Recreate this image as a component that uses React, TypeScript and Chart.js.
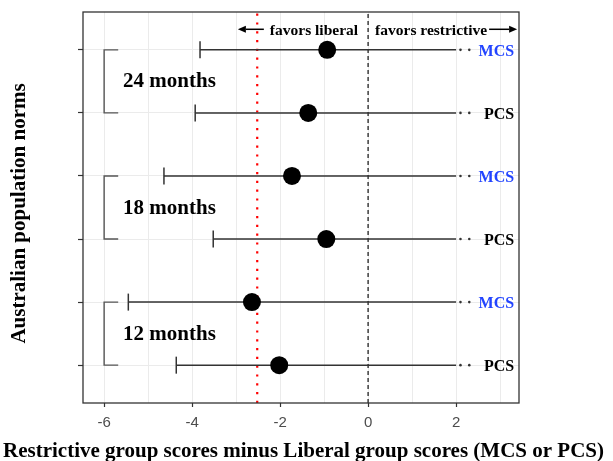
import React, { useEffect, useRef } from 'react';
import { Chart, registerables } from 'chart.js';

Chart.register(...registerables);

// ---- data ----
const rowPositions = [6, 5, 4, 3, 2, 1];
const rowMeasures = ['MCS', 'PCS', 'MCS', 'PCS', 'MCS', 'PCS'];
const pointEstimates = [-0.93, -1.36, -1.73, -0.95, -2.64, -2.02];
const lowerBounds = [-3.82, -3.93, -4.64, -3.52, -5.45, -4.36];
const upperBounds = [2, 2, 2, 2, 2, 2];
const continuationOffsets = [0.1, 0.3];
const groupLabels = ['24 months', '18 months', '12 months'];
const groupTopRows = [6, 4, 2];
const groupBottomRows = [5, 3, 1];
const bracketX = -6;
const bracketTipX = -5.68;
const groupLabelX = -5.57;
const measureLabelX = 3.32;
const zeroLine = 0;
const referenceLine = -2.52;
const xTickValues = [-6, -5, -4, -3, -2, -1, 0, 1, 2, 3];
const xLabelValues = [-6, -4, -2, 0, 2];
const yTickValues = [1, 2, 3, 4, 5, 6];
const xMin = -6.48;
const xMax = 3.43;
const yMin = 0.4;
const yMax = 6.6;
const annotationY = 6.31;
const leftAnnotation = 'favors liberal';
const rightAnnotation = 'favors restrictive';
const xTitle = 'Restrictive group scores minus Liberal group scores (MCS or PCS)';
const yTitle = 'Australian population norms';

const SERIF = "'Liberation Serif', 'DejaVu Serif', serif";
const BAR_COLOR = '#333333';

function arrow(ctx: CanvasRenderingContext2D, x1: number, x2: number, y: number) {
  const dir = x2 > x1 ? 1 : -1;
  const head = 8;
  ctx.beginPath();
  ctx.moveTo(x1, y);
  ctx.lineTo(x2 - dir * head, y);
  ctx.lineWidth = 1.5;
  ctx.strokeStyle = '#000';
  ctx.stroke();
  ctx.beginPath();
  ctx.moveTo(x2, y);
  ctx.lineTo(x2 - dir * head, y - 3.5);
  ctx.lineTo(x2 - dir * head, y + 3.5);
  ctx.closePath();
  ctx.fillStyle = '#000';
  ctx.fill();
}

const textPlugin = {
  id: 'textPlugin',
  afterDraw(chart: any) {
    const { ctx, chartArea } = chart;
    const xs = chart.scales.x;
    const ys = chart.scales.y;
    ctx.save();
    ctx.strokeStyle = '#333';
    ctx.lineWidth = 1.3;
    ctx.strokeRect(chartArea.left, chartArea.top, chartArea.right - chartArea.left, chartArea.bottom - chartArea.top);

    ctx.fillStyle = '#000';
    ctx.font = `bold 21px ${SERIF}`;
    ctx.textAlign = 'left';
    ctx.textBaseline = 'alphabetic';
    groupLabels.forEach((g, i) => {
      const mid = (ys.getPixelForValue(groupTopRows[i]) + ys.getPixelForValue(groupBottomRows[i])) / 2;
      ctx.fillText(g, xs.getPixelForValue(groupLabelX), mid + 6);
    });

    ctx.font = `bold 16px ${SERIF}`;
    ctx.textAlign = 'right';
    rowMeasures.forEach((m, i) => {
      ctx.fillStyle = m === 'MCS' ? '#2244ff' : '#000';
      ctx.fillText(m, xs.getPixelForValue(measureLabelX), ys.getPixelForValue(rowPositions[i]) + 6);
    });

    ctx.fillStyle = '#000';
    ctx.font = `bold 15.5px ${SERIF}`;
    const zx = xs.getPixelForValue(zeroLine);
    const ay = ys.getPixelForValue(annotationY);
    const lw = ctx.measureText(leftAnnotation).width;
    const rw = ctx.measureText(rightAnnotation).width;
    ctx.textAlign = 'right';
    ctx.fillText(leftAnnotation, zx - 10, ay + 5);
    ctx.textAlign = 'left';
    ctx.fillText(rightAnnotation, zx + 7, ay + 5);
    const leftStart = zx - 10 - lw - 6;
    arrow(ctx, leftStart, leftStart - 26, ay - 1);
    const rightStart = zx + 7 + rw + 2;
    arrow(ctx, rightStart, rightStart + 28, ay - 1);

    ctx.fillStyle = '#000';
    ctx.font = `bold 21px ${SERIF}`;
    ctx.textAlign = 'center';
    ctx.textBaseline = 'alphabetic';
    ctx.fillText(xTitle, 303.5, 457);

    ctx.save();
    ctx.translate(25, (chartArea.top + chartArea.bottom) / 2 + 6);
    ctx.rotate(-Math.PI / 2);
    ctx.fillText(yTitle, 0, 0);
    ctx.restore();

    ctx.restore();
  },
};

export default function App() {
  const ref = useRef<HTMLCanvasElement | null>(null);

  useEffect(() => {
    if (!ref.current) return;
    document.body.style.margin = '0';

    const barDatasets = rowPositions.map((y, i) => ({
      label: `bar${i}`,
      data: [
        { x: lowerBounds[i], y },
        { x: upperBounds[i], y },
      ],
      showLine: true,
      borderColor: BAR_COLOR,
      borderWidth: 1.5,
      pointRadius: 0,
      order: 3,
    }));

    const bracketDatasets = groupLabels.map((g, i) => ({
      label: `bracket${i}`,
      data: [
        { x: bracketTipX, y: groupTopRows[i] },
        { x: bracketX, y: groupTopRows[i] },
        { x: bracketX, y: groupBottomRows[i] },
        { x: bracketTipX, y: groupBottomRows[i] },
      ],
      showLine: true,
      borderColor: '#555555',
      borderWidth: 1.4,
      pointRadius: 0,
      order: 4,
    }));

    const datasets: any[] = [
      {
        label: 'estimates',
        data: rowPositions.map((y, i) => ({ x: pointEstimates[i], y })),
        pointRadius: 9,
        pointHoverRadius: 9,
        backgroundColor: '#000',
        borderWidth: 0,
        order: 0,
      },
      {
        label: 'continuation',
        data: rowPositions.flatMap((y, i) => continuationOffsets.map((o) => ({ x: upperBounds[i] + o, y }))),
        pointRadius: 1.3,
        backgroundColor: '#333',
        borderWidth: 0,
        order: 1,
      },
      {
        label: 'caps',
        data: rowPositions.map((y, i) => ({ x: lowerBounds[i], y })),
        pointStyle: 'line',
        rotation: 90,
        pointRadius: 8.5,
        borderColor: BAR_COLOR,
        borderWidth: 1.5,
        order: 2,
      },
      ...barDatasets,
      ...bracketDatasets,
      {
        label: 'reference',
        data: [
          { x: referenceLine, y: yMin },
          { x: referenceLine, y: yMax },
        ],
        showLine: true,
        borderColor: '#ff0000',
        borderWidth: 2.2,
        borderDash: [2.2, 6.6],
        pointRadius: 0,
        order: 5,
      },
      {
        label: 'zero',
        data: [
          { x: zeroLine, y: yMin },
          { x: zeroLine, y: yMax },
        ],
        showLine: true,
        borderColor: '#222',
        borderWidth: 1.3,
        borderDash: [4, 3],
        pointRadius: 0,
        order: 6,
      },
    ];

    const chart = new Chart(ref.current, {
      type: 'scatter',
      data: { datasets },
      options: {
        animation: false,
        responsive: false,
        devicePixelRatio: 1,
        events: [],
        layout: { padding: { top: 12, right: 94, left: 0, bottom: 0 } },
        plugins: { legend: { display: false }, tooltip: { enabled: false } },
        scales: {
          x: {
            type: 'linear',
            min: xMin,
            max: xMax,
            afterBuildTicks: (s: any) => {
              s.ticks = xTickValues.map((v) => ({ value: v }));
            },
            afterFit: (s: any) => {
              s.height = 58;
            },
            ticks: {
              autoSkip: false,
              maxRotation: 0,
              padding: 7,
              color: '#4d4d4d',
              font: { family: "'Liberation Sans', Arial, sans-serif", size: 15 },
              callback: (v: any) => (xLabelValues.includes(Number(v)) ? String(v) : ''),
            },
            grid: {
              color: '#ebebeb',
              lineWidth: 1,
              tickLength: 4,
              tickWidth: 1.2,
              tickColor: (c: any) => (c.tick && xLabelValues.includes(c.tick.value) ? '#333' : 'rgba(0,0,0,0)'),
            },
            border: { display: false },
          },
          y: {
            type: 'linear',
            min: yMin,
            max: yMax,
            afterBuildTicks: (s: any) => {
              s.ticks = yTickValues.map((v) => ({ value: v }));
            },
            afterFit: (s: any) => {
              s.width = 83;
            },
            ticks: {
              autoSkip: false,
              callback: () => '',
            },
            grid: {
              color: '#ebebeb',
              lineWidth: 1,
              tickLength: 5,
              tickWidth: 1.2,
              tickColor: '#333',
            },
            border: { display: false },
          },
        },
      },
      plugins: [textPlugin],
    });

    return () => chart.destroy();
  }, []);

  return (
    <canvas
      ref={ref}
      width={613}
      height={461}
      style={{ display: 'block', position: 'absolute', left: 0, top: 0, width: 613, height: 461 }}
    />
  );
}
